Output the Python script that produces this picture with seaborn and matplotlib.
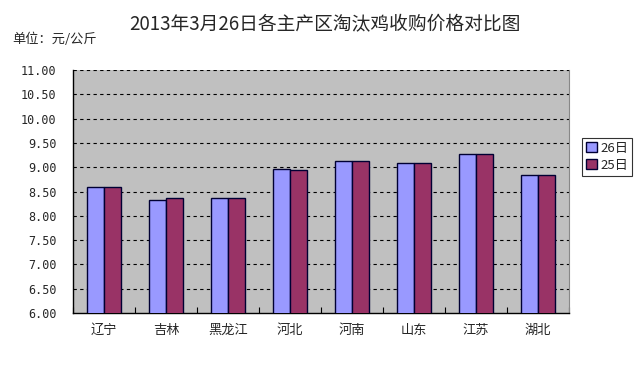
import matplotlib
matplotlib.use("Agg")
import matplotlib.pyplot as plt
import seaborn as sns
import pandas as pd
import numpy as np
from matplotlib.ticker import FixedLocator

sns.set_theme(style="white")
plt.rcParams['font.family'] = ['Noto Sans CJK SC', 'DejaVu Sans']

regions = ["辽宁", "吉林", "黑龙江", "河北", "河南", "山东", "江苏", "湖北"]
series_names = ["26日", "25日"]
price_26 = [8.59, 8.32, 8.36, 8.96, 9.12, 9.08, 9.27, 8.84]
price_25 = [8.59, 8.36, 8.36, 8.94, 9.12, 9.08, 9.27, 8.84]
ytick_values = [6.0, 6.5, 7.0, 7.5, 8.0, 8.5, 9.0, 9.5, 10.0, 10.5, 11.0]
title = "2013年3月26日各主产区淘汰鸡收购价格对比图"
unit_label = "单位：元/公斤"

df = pd.DataFrame({
    "region": regions * 2,
    "series": [series_names[0]] * len(regions) + [series_names[1]] * len(regions),
    "price": price_26 + price_25,
})

fig = plt.figure(figsize=(6.4, 3.71), dpi=100)
fig.patch.set_facecolor("white")
ax = fig.add_axes([73/640, 1-313/371, (569-73)/640, (313-70)/371])
ax.set_facecolor("#C0C0C0")

palette = {series_names[0]: "#9999FF", series_names[1]: "#993366"}
sns.barplot(data=df, x="region", y="price", hue="series", order=regions,
            hue_order=series_names, palette=palette, width=0.55, gap=0,
            edgecolor="#000033", linewidth=1.0, saturation=1, ax=ax, zorder=3)

ax.set_ylim(6.0, 11.0)
ax.set_xlim(-0.5, len(regions) - 0.5)
ax.set_xlabel("")
ax.set_ylabel("")

ax.yaxis.set_major_locator(FixedLocator(ytick_values))
ax.set_yticklabels([f"{v:.2f}" for v in ytick_values], family="DejaVu Sans Mono", fontsize=8.5)
for v in ytick_values[1:]:
    ax.axhline(v, color="black", linestyle=(0, (3, 3)), linewidth=0.8, zorder=1)

ax.tick_params(axis="y", which="major", direction="out", length=4, width=0.8, color="black", pad=8)
ax.tick_params(axis="x", which="major", length=0, pad=8, labelsize=9.5)
ax.xaxis.set_minor_locator(FixedLocator(np.arange(-0.5, len(regions), 1.0)))
ax.tick_params(axis="x", which="minor", direction="in", length=4, width=0.8, color="black", bottom=True)

for side in ["left", "bottom"]:
    ax.spines[side].set_color("black")
    ax.spines[side].set_linewidth(1.0)
ax.spines["top"].set_visible(False)
ax.spines["right"].set_color("#888888")
ax.spines["right"].set_linestyle((0, (1, 1)))
ax.spines["right"].set_linewidth(0.8)

leg = ax.legend(loc="upper left", bbox_to_anchor=(582/640, 1-138/371), bbox_transform=fig.transFigure,
                frameon=True, fancybox=False, fontsize=9.5, handlelength=0.8, handleheight=0.8,
                handletextpad=0.3, borderpad=0.3, labelspacing=0.3, borderaxespad=0)
leg.get_frame().set_edgecolor("black")
leg.get_frame().set_linewidth(0.8)

fig.text(325/640, 1-25/371, title, ha="center", va="center", fontsize=13.5)
fig.text(12/640, 1-39/371, unit_label, ha="left", va="center", fontsize=9.5)

fig.savefig("out.png", dpi=100)
